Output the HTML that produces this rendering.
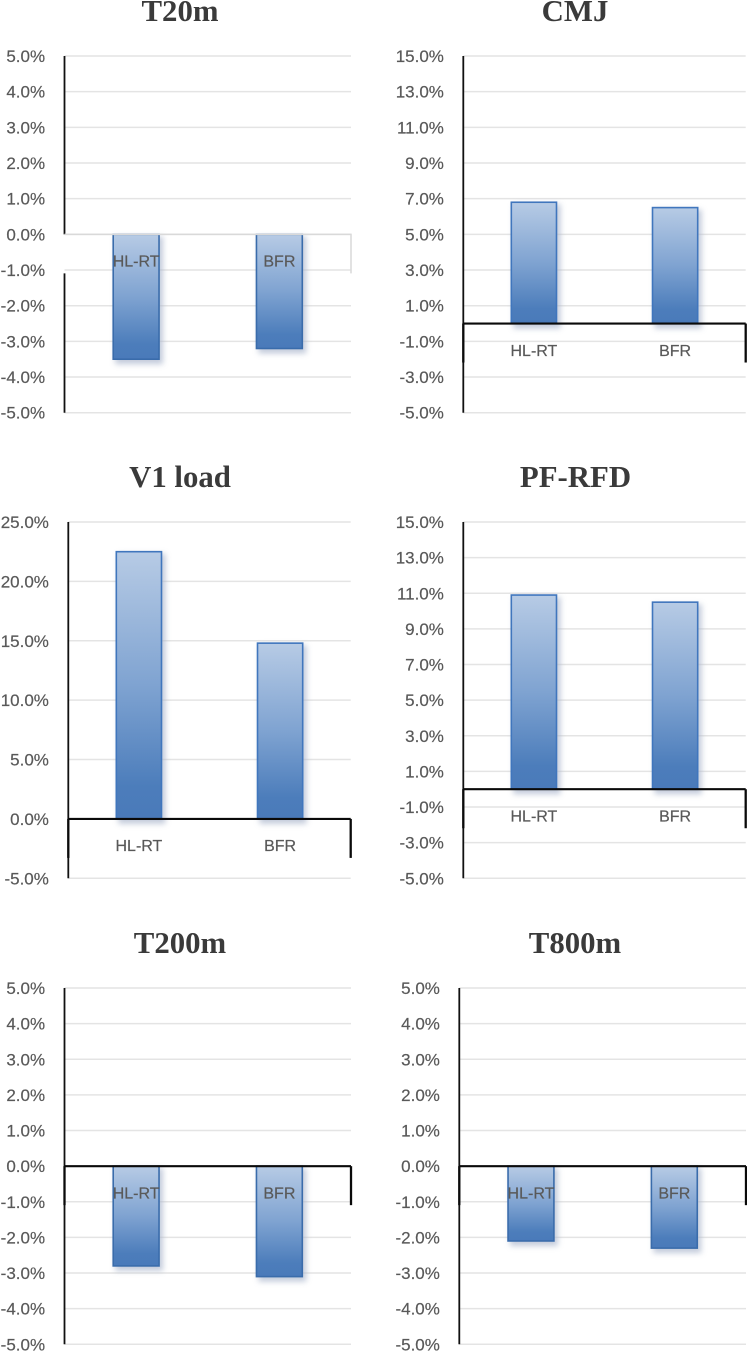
<!DOCTYPE html>
<html lang="en">
<head>
<meta charset="utf-8">
<title>Six bar charts of percentage change: HL-RT vs BFR</title>
<style>
  html, body { margin: 0; padding: 0; background: #fff; }
  body { width: 747px; height: 1351px; overflow: hidden; }
  svg { display: block; }
  .chart-title { font-family: "Liberation Serif", serif; font-weight: 700; font-size: 30.8px; fill: #3a3a3a; text-anchor: middle; }
  .tick-label { font-family: "Liberation Sans", sans-serif; font-size: 17px; fill: #595959; stroke: #595959; stroke-width: 0.2; text-anchor: end; }
  .category-label { font-family: "Liberation Sans", sans-serif; font-size: 16px; fill: #595959; stroke: #595959; stroke-width: 0.2; text-anchor: middle; }
</style>
</head>
<body>
<svg id="figure" width="747" height="1351" viewBox="0 0 747 1351" xmlns="http://www.w3.org/2000/svg">
  <defs>
    <linearGradient id="barFill" x1="0" y1="0" x2="0" y2="1">
      <stop offset="0" stop-color="#b7cbe5"/>
      <stop offset="0.5" stop-color="#7fa3d1"/>
      <stop offset="0.88" stop-color="#4c7dbb"/>
      <stop offset="1" stop-color="#4a7aba"/>
    </linearGradient>
    <filter id="barShadow" x="-30%" y="-20%" width="160%" height="140%">
      <feGaussianBlur stdDeviation="3"/>
    </filter>
  </defs>
</svg>
<script>
const categories = ["HL-RT", "BFR"];

const t20mValues = [-3.5, -3.2];
const cmjValues = [6.8, 6.5];
const v1LoadValues = [22.5, 14.8];
const pfRfdValues = [10.9, 10.5];
const t200mValues = [-2.8, -3.1];
const t800mValues = [-2.1, -2.3];

const unitTicks = ["5.0%", "4.0%", "3.0%", "2.0%", "1.0%", "0.0%", "-1.0%", "-2.0%", "-3.0%", "-4.0%", "-5.0%"];
const oddTicks = ["15.0%", "13.0%", "11.0%", "9.0%", "7.0%", "5.0%", "3.0%", "1.0%", "-1.0%", "-3.0%", "-5.0%"];
const fiveTicks = ["25.0%", "20.0%", "15.0%", "10.0%", "5.0%", "0.0%", "-5.0%"];

const panels = [
  { key: "t20m", title: "T20m", values: t20mValues, ticks: unitTicks, left: 64.5, right: 351, top: 56, bottom: 412.7, titleX: 180, titleY: 21, muted: true },
  { key: "cmj", title: "CMJ", values: cmjValues, ticks: oddTicks, left: 463.3, right: 745.7, top: 56, bottom: 412.7, titleX: 575, titleY: 21, muted: false },
  { key: "v1-load", title: "V1 load", values: v1LoadValues, ticks: fiveTicks, left: 68.3, right: 350.7, top: 522, bottom: 878.3, titleX: 180, titleY: 487, muted: false },
  { key: "pf-rfd", title: "PF-RFD", values: pfRfdValues, ticks: oddTicks, left: 463.3, right: 745.7, top: 522, bottom: 878.3, titleX: 575.5, titleY: 487, muted: false },
  { key: "t200m", title: "T200m", values: t200mValues, ticks: unitTicks, left: 64.5, right: 351, top: 988, bottom: 1344.3, titleX: 180, titleY: 953, muted: false },
  { key: "t800m", title: "T800m", values: t800mValues, ticks: unitTicks, left: 459.3, right: 746, top: 988, bottom: 1344.3, titleX: 575, titleY: 953, muted: false }
];

const NS = "http://www.w3.org/2000/svg";
const figure = document.getElementById("figure");

function make(parent, tag, attrs, text) {
  const el = document.createElementNS(NS, tag);
  for (const k in attrs) el.setAttribute(k, attrs[k]);
  if (text !== undefined) el.textContent = text;
  parent.appendChild(el);
  return el;
}

function drawPanel(p) {
  const domainMax = parseFloat(p.ticks[0]);
  const domainMin = parseFloat(p.ticks[p.ticks.length - 1]);
  const yScale = function (v) {
    return p.top + (domainMax - v) / (domainMax - domainMin) * (p.bottom - p.top);
  };
  const band = (p.right - p.left) / categories.length;
  const xCenter = function (i) { return p.left + band * (i + 0.5); };
  const barWidth = band * 0.32;
  const zeroY = yScale(0);
  const dropLength = 39;

  const g = make(figure, "g", {});
  
  

  const title = make(g, "text", { class: "chart-title", x: p.titleX, y: p.titleY }, p.title);
  
  

  p.ticks.forEach(function (label) {
    const y = yScale(parseFloat(label));
    const grid = make(g, "line", { x1: p.left, x2: p.right, y1: y, y2: y, stroke: "#e4e4e4", "stroke-width": 1.5 });
    
    
    const tick = make(g, "text", { class: "tick-label", x: p.left - 19.4, y: y + 6 }, label);
    
    
  });

  p.values.forEach(function (value, i) {
    const y0 = Math.min(yScale(value), zeroY);
    const h = Math.abs(yScale(value) - zeroY);
    const x = xCenter(i) - barWidth / 2;
    const shadow = make(g, "rect", { x: x + 2, y: y0 + 2, width: barWidth + 2, height: h + 3, fill: "#aab6cc", opacity: 0.7, filter: "url(#barShadow)" });
    
    
    const bar = make(g, "rect", { x: x, y: y0, width: barWidth, height: h, fill: "url(#barFill)", stroke: value < 0 ? "#3a6cab" : "#4076bd", "stroke-width": 1.6 });
    
    
  });

  if (p.muted) {
    const upper = make(g, "line", { x1: p.left, x2: p.left, y1: p.top, y2: zeroY, stroke: "#111", "stroke-width": 1.8 });
    
    
    const lower = make(g, "line", { x1: p.left, x2: p.left, y1: zeroY + dropLength, y2: p.bottom, stroke: "#111", "stroke-width": 1.8 });
    
    
    const zero = make(g, "path", { d: "M" + p.left + " " + zeroY + "H" + p.right + "V" + (zeroY + dropLength), fill: "none", stroke: "#d9d9d9", "stroke-width": 1.5 });
    
    
  } else {
    const axis = make(g, "line", { x1: p.left, x2: p.left, y1: p.top, y2: p.bottom, stroke: "#111", "stroke-width": 1.8 });
    
    
    const zero = make(g, "line", { x1: p.left, x2: p.right, y1: zeroY, y2: zeroY, stroke: "#0a0a0a", "stroke-width": 2.1 });
    
    
    const dropL = make(g, "line", { x1: p.left, x2: p.left, y1: zeroY, y2: zeroY + dropLength, stroke: "#0a0a0a", "stroke-width": 2.3 });
    
    
    const dropR = make(g, "line", { x1: p.right, x2: p.right, y1: zeroY, y2: zeroY + dropLength, stroke: "#0a0a0a", "stroke-width": 2.3 });
    
    
  }

  categories.forEach(function (cat, i) {
    const label = make(g, "text", { class: "category-label", x: xCenter(i), y: zeroY + 32.3 }, cat);
    
    
  });
}

panels.forEach(drawPanel);
</script>
</body>
</html>
